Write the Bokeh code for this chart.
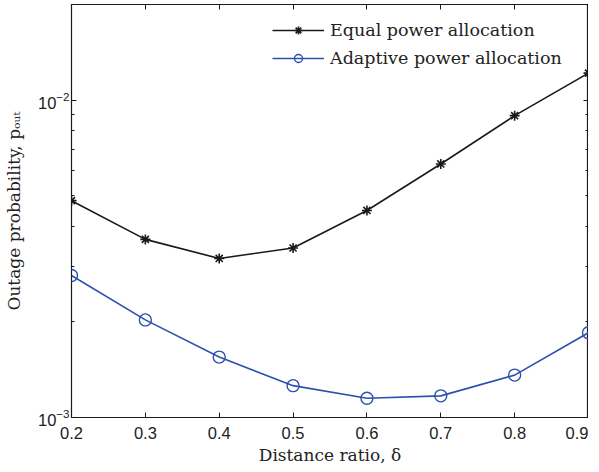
from bokeh.plotting import figure
from bokeh.models import (LogAxis, LinearAxis, FixedTicker, Legend, LegendItem, Range1d,
                          LogTickFormatter, CustomJSTickFormatter)
from bokeh.embed import file_html
from bokeh.resources import INLINE

delta = [0.2, 0.3, 0.4, 0.5, 0.6, 0.7, 0.8, 0.9]
equal_power = [4.82e-3, 3.64e-3, 3.17e-3, 3.42e-3, 4.49e-3, 6.29e-3, 8.93e-3, 1.216e-2]
adaptive_power = [2.80e-3, 2.03e-3, 1.55e-3, 1.26e-3, 1.15e-3, 1.17e-3, 1.36e-3, 1.85e-3]
x_ticks = [0.2, 0.3, 0.4, 0.5, 0.6, 0.7, 0.8, 0.9]
y_major = [1e-3, 1e-2]
y_minor = [2e-3, 3e-3, 4e-3, 5e-3, 6e-3, 7e-3, 8e-3, 9e-3, 2e-2]

BLACK = "#1a1a1a"
BLUE = "#2c50ad"
SERIF = "DejaVu Serif"

p = figure(frame_width=517, frame_height=413, y_axis_type="log",
           x_range=Range1d(0.2, 0.9), y_range=Range1d(1e-3, 2e-2),
           output_backend="svg", toolbar_location=None,
           min_border_left=62, min_border_right=0, min_border_top=4, min_border_bottom=0)
p.grid.visible = False
p.outline_line_color = BLACK
p.outline_line_width = 1.2
p.background_fill_color = "white"
p.border_fill_color = "white"

l1 = p.line(delta, equal_power, line_color=BLACK, line_width=1.6)
s1 = p.scatter(delta, equal_power, marker="asterisk", size=10, line_color=BLACK, line_width=1.6)
l2 = p.line(delta, adaptive_power, line_color=BLUE, line_width=1.6)
s2 = p.scatter(delta, adaptive_power, marker="circle", size=12, line_color=BLUE,
               fill_color=None, line_width=1.4)

blank = CustomJSTickFormatter(code="return ''")

def style_axis(ax):
    ax.axis_line_color = None
    ax.major_tick_in = 5
    ax.major_tick_out = 0
    ax.minor_tick_in = 3
    ax.minor_tick_out = 0
    ax.major_tick_line_color = BLACK
    ax.minor_tick_line_color = BLACK
    ax.major_label_text_font = "Liberation Sans"
    ax.major_label_text_font_size = "16.5px"
    ax.major_label_text_color = "#222222"

xa = p.xaxis[0]
xa.ticker = FixedTicker(ticks=x_ticks)
style_axis(xa)
xa.minor_tick_line_color = None
xa.major_label_standoff = 9
xa.axis_label = "Distance ratio, δ"
xa.axis_label_text_font = SERIF
xa.axis_label_text_font_style = "normal"
xa.axis_label_text_font_size = "17px"
xa.axis_label_text_color = "#222222"
xa.axis_label_standoff = 3

ya = p.yaxis[0]
ya.ticker = FixedTicker(ticks=y_major, minor_ticks=y_minor)
ya.formatter = LogTickFormatter()
style_axis(ya)
ya.major_label_standoff = 2
ya.axis_label = "Outage probability, pₒᵤₜ"
ya.axis_label_text_font = SERIF
ya.axis_label_text_font_style = "normal"
ya.axis_label_text_font_size = "17px"
ya.axis_label_text_color = "#222222"
ya.axis_label_standoff = 11

top = LinearAxis(ticker=FixedTicker(ticks=x_ticks), formatter=blank)
style_axis(top)
top.minor_tick_line_color = None
top.major_label_standoff = 0
p.add_layout(top, "above")

right = LogAxis(ticker=FixedTicker(ticks=y_major, minor_ticks=y_minor), formatter=blank)
style_axis(right)
right.major_label_standoff = 0
p.add_layout(right, "right")

legend = Legend(items=[
    LegendItem(label="Equal power allocation", renderers=[l1, s1]),
    LegendItem(label="Adaptive power allocation", renderers=[l2, s2]),
], location="top_right")
legend.label_text_font = SERIF
legend.label_text_font_size = "17.5px"
legend.label_text_color = "#222222"
legend.glyph_width = 52
legend.glyph_height = 20
legend.label_height = 20
legend.label_width = 242
legend.label_standoff = 6
legend.spacing = 8
legend.border_line_color = None
legend.background_fill_alpha = 0
legend.margin = 16
legend.padding = 4
p.add_layout(legend, "center")

open("out.html", "w").write(file_html(p, INLINE))
